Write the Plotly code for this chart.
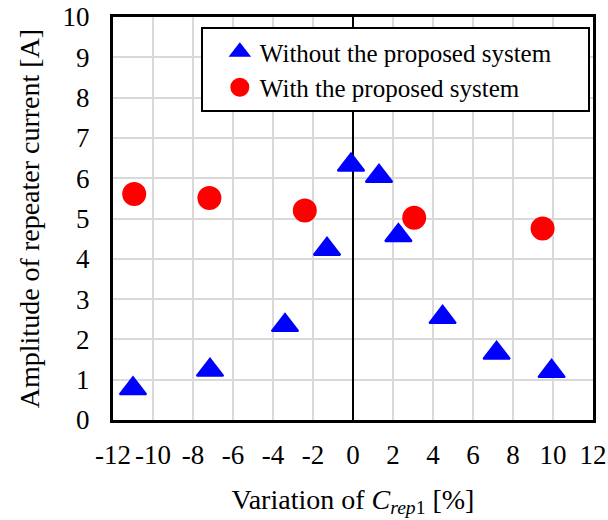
import plotly.graph_objects as go

# Data
x_without = [-11.0, -7.15, -3.4, -1.3, -0.1, 1.3, 2.27, 4.48, 7.18, 9.93]
y_without = [0.78, 1.24, 2.35, 4.24, 6.33, 6.05, 4.58, 2.55, 1.66, 1.21]

x_with = [-10.94, -7.18, -2.41, 3.06, 9.48]
y_with = [5.61, 5.51, 5.20, 5.02, 4.75]

name_without = "Without the proposed system"
name_with = "With the proposed system"

x_ticks = list(range(-12, 13, 2))
y_ticks = list(range(0, 11, 1))

FONT = "Liberation Serif, Times New Roman, serif"
PAD = "\u00a0" * 5

fig = go.Figure()
fig.add_trace(go.Scatter(
    x=x_without, y=y_without, mode="markers", name=name_without + PAD,
    marker=dict(symbol="triangle-up", size=23, color="#0000ff",
                line=dict(color="#0000ff", width=2)),
))
fig.add_trace(go.Scatter(
    x=x_with, y=y_with, mode="markers", name=name_with + PAD,
    marker=dict(symbol="circle", size=21, color="#ff0000",
                line=dict(color="#ff0000", width=3)),
))

fig.update_layout(
    width=608, height=520,
    margin=dict(l=113, r=15, t=17, b=100, autoexpand=False),
    paper_bgcolor="white", plot_bgcolor="white",
    font=dict(family=FONT, size=27, color="black"),
    showlegend=True,
    legend=dict(
        x=0.183, y=0.975, xanchor="left", yanchor="top",
        bgcolor="white", bordercolor="black", borderwidth=2,
        font=dict(family=FONT, size=25, color="black"),
        indentation=17,
    ),
)

fig.update_xaxes(
    range=[-12, 12], tickvals=x_ticks, ticktext=[str(v) for v in x_ticks],
    automargin=False,
    showgrid=True, gridcolor="#d9d9d9", gridwidth=2,
    zeroline=True, zerolinecolor="black", zerolinewidth=2,
    showline=True, linecolor="black", linewidth=3, mirror=True,
    ticks="", ticklabelstandoff=9,
    tickfont=dict(family=FONT, size=27, color="black"),
    title=dict(text="Variation of <i>C</i><sub><i>rep</i>1</sub> [%]",
               font=dict(family=FONT, size=28, color="black"), standoff=20),
)
fig.update_yaxes(
    range=[0, 10], tickvals=y_ticks, ticktext=[str(v) for v in y_ticks],
    automargin=False,
    showgrid=True, gridcolor="#d9d9d9", gridwidth=2,
    zeroline=False,
    showline=True, linecolor="black", linewidth=3, mirror=True,
    ticks="", ticklabelstandoff=15,
    tickfont=dict(family=FONT, size=27, color="black"),
    title=dict(text="Amplitude of repeater current [A]",
               font=dict(family=FONT, size=28, color="black"), standoff=15),
)

fig.write_html("out.html", config={"displayModeBar": False},
               post_script="document.body.style.margin='0';")
